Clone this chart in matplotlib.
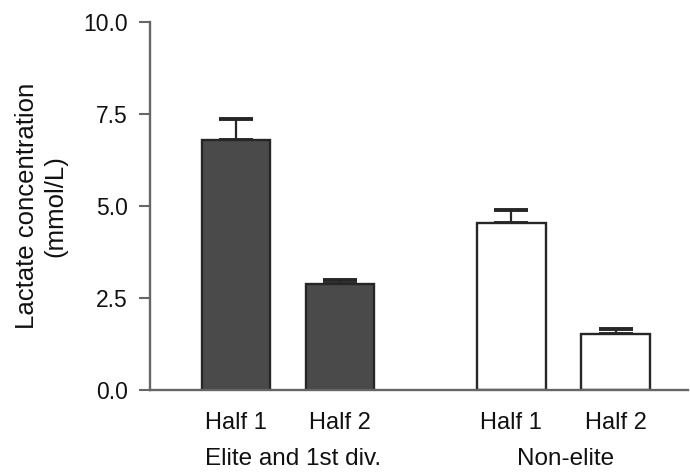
import matplotlib
matplotlib.use("Agg")
import matplotlib.pyplot as plt

plt.rcParams['font.family'] = ['Liberation Sans', 'DejaVu Sans']

# Blood lactate by match half and playing level
bar_labels = ["Half 1", "Half 2", "Half 1", "Half 2"]
group_labels = ["Elite and 1st div.", "Non-elite"]
lactate_mean = [6.79, 2.88, 4.53, 1.52]
lactate_err = [0.59, 0.11, 0.36, 0.14]
bar_fill = ["#4a4a4a", "#4a4a4a", "#ffffff", "#ffffff"]
y_ticks = [0.0, 2.5, 5.0, 7.5, 10.0]

positions = [0, 1, 2.645, 3.65]
width = 0.663

fig = plt.figure(figsize=(6.9, 4.72), dpi=100)
ax = fig.add_axes([150 / 690, 1 - 390 / 472, 538 / 690, (390 - 22.3) / 472])

ax.bar(positions, lactate_mean, width=width, color=bar_fill,
       edgecolor="#262626", linewidth=1.7, zorder=2)
ax.errorbar(positions, lactate_mean,
            yerr=[[0] * len(lactate_err), lactate_err],
            fmt="none", ecolor="#262626", elinewidth=1.6,
            capsize=12.5, capthick=2.8, zorder=1)

ax.set_xlim(-0.827, 4.346)
ax.set_ylim(0, 10)
ax.set_yticks(y_ticks)
ax.set_yticklabels([f"{v:.1f}" for v in y_ticks])
ax.set_xticks(positions)
ax.set_xticklabels(bar_labels)

for side in ("top", "right"):
    ax.spines[side].set_visible(False)
for side in ("left", "bottom"):
    ax.spines[side].set_color("#666666")
    ax.spines[side].set_linewidth(1.7)

ax.tick_params(axis="y", length=8, width=1.5, color="#666666",
               pad=8, labelsize=16.5, labelcolor="#111111")
ax.tick_params(axis="x", length=0, pad=16, labelsize=17,
               labelcolor="#111111")

ax.set_ylabel("Lactate concentration\n(mmol/L)", fontsize=18.5,
              color="#111111", linespacing=1.2)
ax.yaxis.set_label_coords(-0.154, 0.5)

group_centers = [(positions[0] + positions[1]) / 2 + 0.05,
                 (positions[2] + positions[3]) / 2 + 0.02]
for cx, name in zip(group_centers, group_labels):
    ax.annotate(name, xy=(cx, 0), xycoords=("data", "axes fraction"),
                xytext=(0, -49.5), textcoords="offset points",
                ha="center", va="center", fontsize=17.5, color="#111111",
                annotation_clip=False)

fig.savefig("out.png", dpi=100)
